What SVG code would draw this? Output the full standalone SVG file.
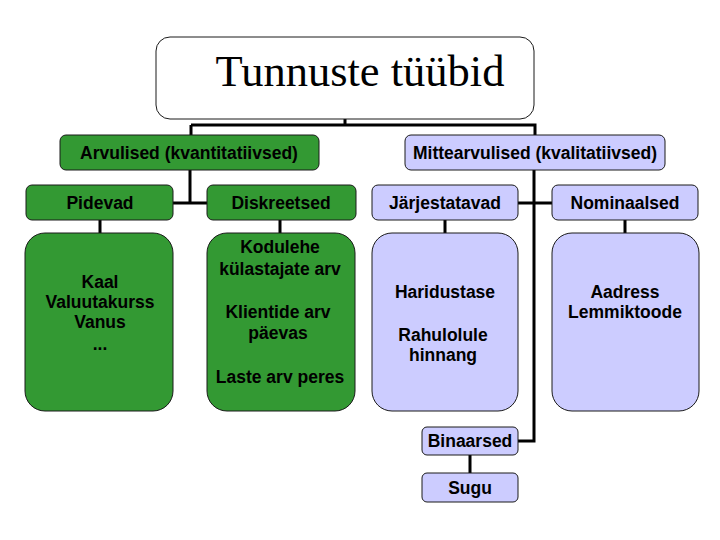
<svg xmlns="http://www.w3.org/2000/svg" width="720" height="540" viewBox="0 0 720 540">
<style>
.g{fill:#339933;stroke:#1a1a1a;stroke-width:1}
.b{fill:#ccccff;stroke:#1a1a1a;stroke-width:1}
.t{font-family:"Liberation Sans",Arial,sans-serif;font-weight:bold;font-size:17.5px;fill:#000;text-anchor:middle}
.c{fill:none;stroke:#000;stroke-width:3}
</style>
<rect width="720" height="540" fill="#fff"/>
<g id="connectors">
<path class="c" d="M345 119V125M191 125H535V135M191 125V135"/>
<path class="c" d="M190 170V203M173 203H207"/>
<path class="c" d="M534 170V441H518M518 203H552"/>
<path class="c" d="M100 220V233M280 220V233M445 220V233M625 220V233M470 455V473"/>
</g>
<g id="title">
<rect x="156" y="37" width="378" height="82" rx="14" fill="#fff" stroke="#1a1a1a" stroke-width="1"/>
<text x="360" y="86" font-family="'Liberation Serif','Times New Roman',serif" font-size="44.5" text-anchor="middle">Tunnuste tüübid</text>
</g>
<g id="arvulised">
<rect class="g" x="60" y="135" width="259" height="35" rx="6"/>
<text class="t" x="189" y="159">Arvulised (kvantitatiivsed)</text>
</g>
<g id="mittearvulised">
<rect class="b" x="405" y="135" width="260" height="35" rx="6"/>
<text class="t" x="535" y="159">Mittearvulised (kvalitatiivsed)</text>
</g>
<g id="pidevad">
<rect class="g" x="26" y="185" width="147" height="35" rx="6"/>
<text class="t" x="100" y="209">Pidevad</text>
</g>
<g id="diskreetsed">
<rect class="g" x="207" y="185" width="149" height="35" rx="6"/>
<text class="t" x="281" y="209">Diskreetsed</text>
</g>
<g id="jarjestatavad">
<rect class="b" x="372" y="185" width="146" height="35" rx="6"/>
<text class="t" x="445" y="209">Järjestatavad</text>
</g>
<g id="nominaalsed">
<rect class="b" x="552" y="185" width="146" height="35" rx="6"/>
<text class="t" x="625" y="209">Nominaalsed</text>
</g>
<g id="pidevad-naited">
<rect class="g" x="25" y="233" width="148" height="178" rx="20"/>
<text class="t" x="100" y="288">Kaal</text>
<text class="t" x="100" y="308">Valuutakurss</text>
<text class="t" x="100" y="328">Vanus</text>
<text class="t" x="100" y="350">...</text>
</g>
<g id="diskreetsed-naited">
<rect class="g" x="207" y="233" width="148" height="178" rx="20"/>
<text class="t" x="280" y="253">Kodulehe</text>
<text class="t" x="280" y="275">külastajate arv</text>
<text class="t" x="278" y="318">Klientide arv</text>
<text class="t" x="278" y="339">päevas</text>
<text class="t" x="280" y="383">Laste arv peres</text>
</g>
<g id="jarjestatavad-naited">
<rect class="b" x="372" y="233" width="146" height="178" rx="20"/>
<text class="t" x="445" y="298">Haridustase</text>
<text class="t" x="443" y="341">Rahulolule</text>
<text class="t" x="443" y="361">hinnang</text>
</g>
<g id="nominaalsed-naited">
<rect class="b" x="552" y="233" width="147" height="178" rx="20"/>
<text class="t" x="625" y="298">Aadress</text>
<text class="t" x="625" y="318">Lemmiktoode</text>
</g>
<g id="binaarsed">
<rect class="b" x="422" y="427" width="96" height="28" rx="5"/>
<text class="t" x="470" y="447">Binaarsed</text>
</g>
<g id="sugu">
<rect class="b" x="422" y="473" width="96" height="29" rx="5"/>
<text class="t" x="470" y="494">Sugu</text>
</g>
</svg>
